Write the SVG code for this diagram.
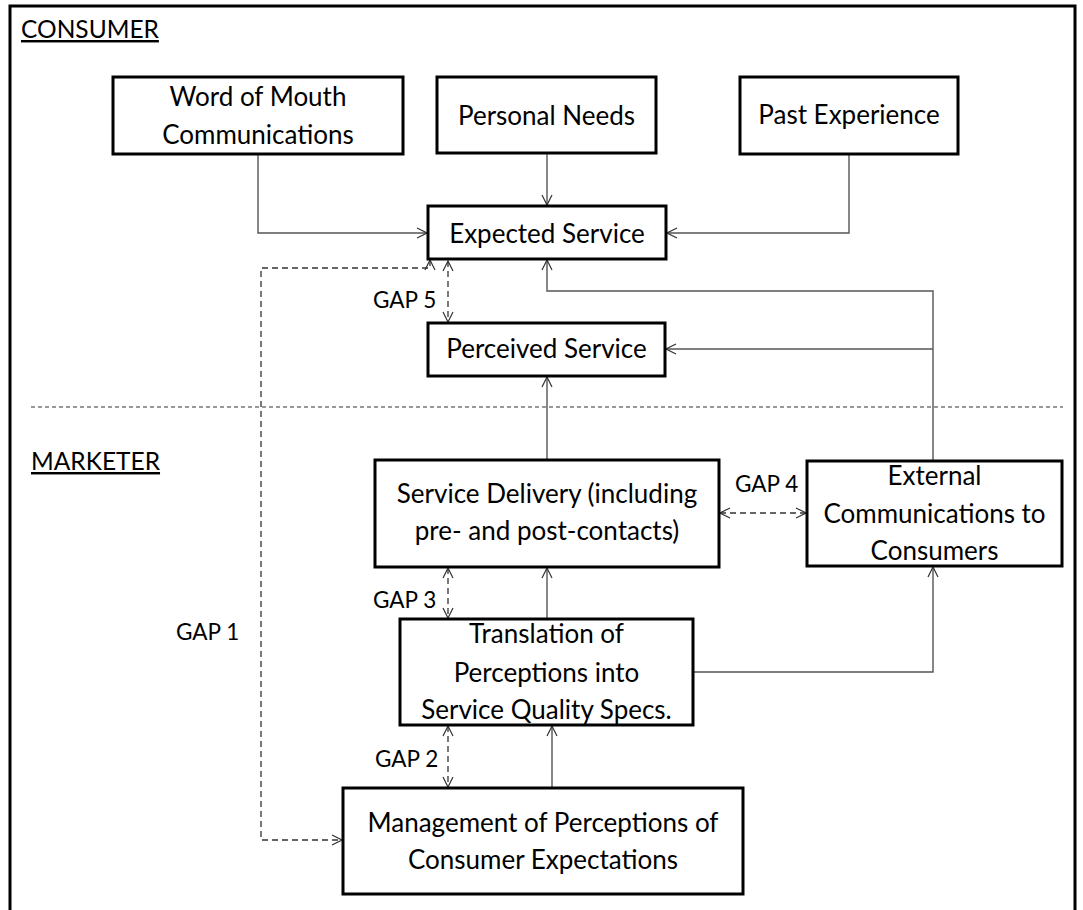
<svg xmlns="http://www.w3.org/2000/svg" width="1083" height="910" viewBox="0 0 1083 910">
<defs>
<style>
.box{fill:#fff;stroke:#000;stroke-width:3}
.t{font-family:Lato,"Liberation Sans",sans-serif;font-size:26px;fill:#000;text-anchor:middle}
.hd{font-family:Lato,"Liberation Sans",sans-serif;font-size:24.5px;fill:#000;text-decoration:underline}
.gap{font-family:Lato,"Liberation Sans",sans-serif;font-size:22.5px;fill:#000}
.c{fill:none;stroke:#555;stroke-width:1.4;marker-end:url(#ah)}
.d{fill:none;stroke:#333;stroke-width:1.3;stroke-dasharray:6,4;marker-end:url(#ah);marker-start:url(#ah)}
.div{fill:none;stroke:#333;stroke-width:1.2;stroke-dasharray:4,3}
</style>
<marker id="ah" viewBox="-1 -6 12 12" refX="10" refY="0" markerWidth="12" markerHeight="12" markerUnits="userSpaceOnUse" orient="auto-start-reverse">
<path d="M0,-5 L10,0 L0,5" fill="none" stroke="#333" stroke-width="1.2"/>
</marker>
</defs>
<rect width="1083" height="910" fill="#fff"/>
<rect x="10" y="6" width="1065" height="920" fill="none" stroke="#000" stroke-width="3"/>
<text class="hd" x="21" y="38">CONSUMER</text>
<text class="hd" x="31" y="470">MARKETER</text>
<path class="div" d="M31,407 H1063"/>
<g id="connectors">
<path class="c" d="M258,154 V233 H427"/>
<path class="c" d="M547,153 V205"/>
<path class="c" d="M849,154 V233 H667"/>
<path class="c" d="M933,461 V291 H547 V260"/>
<path class="c" d="M933,349 H666"/>
<path class="c" d="M547,460 V377"/>
<path class="c" d="M547,619 V568"/>
<path class="c" d="M693,672 H933 V567"/>
<path class="c" d="M552,788 V726"/>
<path class="d" d="M430,260 V268 H261 V840 H342"/>
<path class="d" d="M448,261 V322"/>
<path class="d" d="M720,513 H806"/>
<path class="d" d="M448,568 V618"/>
<path class="d" d="M448,726 V787"/>
</g>
<g id="gaps">
<text class="gap" x="373" y="308">GAP 5</text>
<text class="gap" x="735" y="492">GAP 4</text>
<text class="gap" x="373" y="608">GAP 3</text>
<text class="gap" x="375" y="767">GAP 2</text>
<text class="gap" x="176" y="640">GAP 1</text>
</g>
<g id="word-of-mouth"><rect class="box" x="113" y="77" width="290" height="77"/><text class="t" x="258" y="106">Word of Mouth</text><text class="t" x="258" y="144">Communications</text></g>
<g id="personal-needs"><rect class="box" x="437" y="77" width="219" height="76"/><text class="t" x="546.5" y="125">Personal Needs</text></g>
<g id="past-experience"><rect class="box" x="740" y="77" width="218" height="77"/><text class="t" x="849" y="124">Past Experience</text></g>
<g id="expected-service"><rect class="box" x="428" y="206" width="238" height="53"/><text class="t" x="547" y="243">Expected Service</text></g>
<g id="perceived-service"><rect class="box" x="428" y="323" width="237" height="53"/><text class="t" x="546.5" y="358">Perceived Service</text></g>
<g id="service-delivery"><rect class="box" x="375" y="460" width="344" height="107"/><text class="t" x="547" y="503">Service Delivery (including</text><text class="t" x="547" y="540">pre- and post-contacts)</text></g>
<g id="external-communications"><rect class="box" x="807" y="461" width="255" height="105"/><text class="t" x="934.5" y="485">External</text><text class="t" x="934.5" y="523">Communications to</text><text class="t" x="934.5" y="560">Consumers</text></g>
<g id="translation"><rect class="box" x="400" y="619" width="293" height="106"/><text class="t" x="546.5" y="643">Translation of</text><text class="t" x="546.5" y="682">Perceptions into</text><text class="t" x="546.5" y="719">Service Quality Specs.</text></g>
<g id="management"><rect class="box" x="343" y="788" width="400" height="106"/><text class="t" x="543" y="832">Management of Perceptions of</text><text class="t" x="543" y="869">Consumer Expectations</text></g>
</svg>
